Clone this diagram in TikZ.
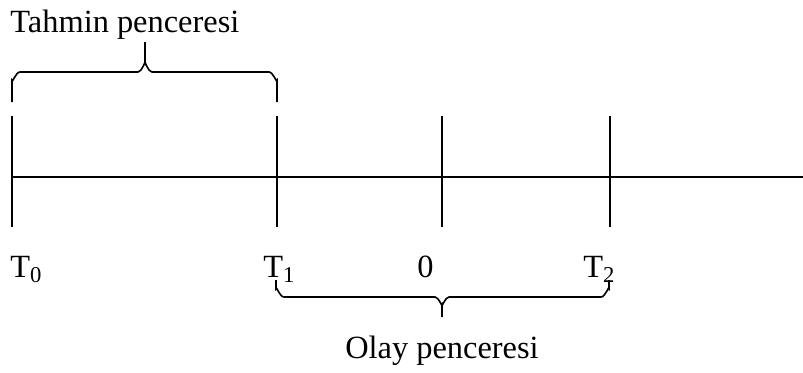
\documentclass[tikz,border=0pt]{standalone}
\usepackage{fontspec}
\setmainfont{Liberation Serif}
\begin{document}
\begin{tikzpicture}[
	x=0.5pt, y=-0.5pt,
	axis/.style={ line width=1pt },
	tick/.style={ line width=0.7pt },
	brace/.style={ line width=0.8pt },
	lbl/.style={ inner sep=0pt, anchor=base west, font=\fontsize{16.2}{19}\selectfont }
]
\useasboundingbox (0,0) rectangle (803,372);

\coordinate (t0) at (12,177);
\coordinate (t1) at (277,177);
\coordinate (zero) at (442,177);
\coordinate (t2) at (610,177);
\coordinate (far) at (803,177);
\draw[axis] (t0) -- (far);
\foreach \p in {t0,t1,zero,t2} \draw[tick] ([yshift=30.5pt]\p) -- ([yshift=-25pt]\p);

\node at (10,277) (lt0) [lbl] {T\textsubscript{0}};
\node at (263,277) (lt1) [lbl] {T\textsubscript{1}};
\node at (417,277) (lzero) [lbl] {0};
\node at (583,277) (lt2) [lbl] {T\textsubscript{2}};

% tahmin
\coordinate (ta) at (12,102);
\coordinate (tb) at (277,102);
\coordinate (tm) at (145,42);
\draw[brace] (ta) -- ++(0,-22) to[out=-90,in=180] ++(8,-8) -- (138,72) to[out=0,in=90] (145,64) -- (tm)
	(145,64) to[out=90,in=180] (152,72) -- (269,72) to[out=0,in=-90] (277,80) -- (tb);
\node at (10,32) (tahmin) [lbl] {Tahmin penceresi};

% olay
\coordinate (oa) at (276,280);
\coordinate (ob) at (609,280);
\coordinate (om) at (442,317);
\draw[brace] (oa) -- ++(0,9) to[out=90,in=180] ++(8,8) -- (435,297) to[out=0,in=-90] (442,304) -- (om)
	(442,304) to[out=-90,in=180] (449,297) -- (601,297) to[out=0,in=90] (609,289) -- (ob);
\node at (442,358) (olay) [lbl, anchor=base] {Olay penceresi};

\end{tikzpicture}
\end{document}
